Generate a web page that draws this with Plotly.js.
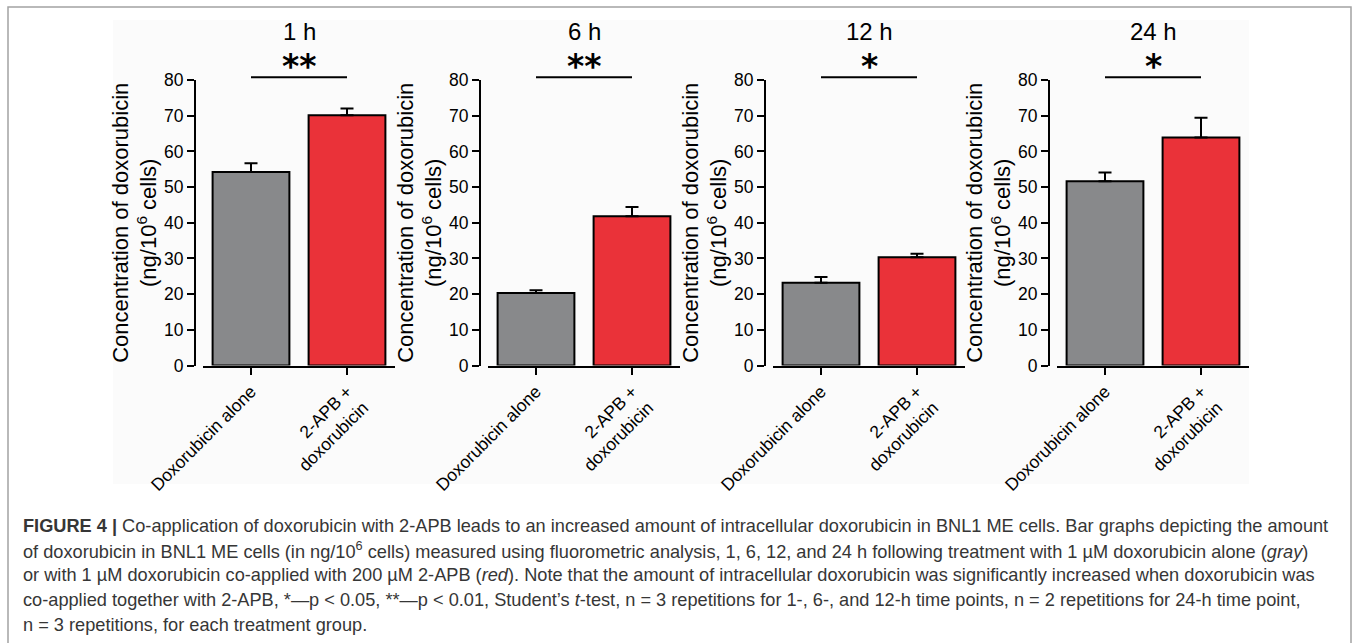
<!DOCTYPE html>
<html>
<head>
<meta charset="utf-8">
<script src="https://cdn.plot.ly/plotly-3.0.1.min.js"></script>
<style>
  html, body { margin: 0; padding: 0; background: #ffffff; }
  #chart { width: 1355px; height: 643px; }
</style>
</head>
<body>
<div id="chart"></div>
<script>
// ---------------- data ----------------
const categories = ['Doxorubicin alone', '2-APB +<br>doxorubicin'];
const timeLabels = ['1 h', '6 h', '12 h', '24 h'];
const aloneMeans = [54.2, 20.3, 23.2, 51.6];
const aloneSEM   = [2.5, 0.8, 1.6, 2.5];
const comboMeans = [70.1, 41.8, 30.3, 63.9];
const comboSEM   = [1.9, 2.6, 1.0, 5.5];
const significance = ['**', '**', '*', '*'];
const yTickVals = [0, 10, 20, 30, 40, 50, 60, 70, 80];
const captionLines = [
  '<b>FIGURE 4 |</b> Co-application of doxorubicin with 2-APB leads to an increased amount of intracellular doxorubicin in BNL1 ME cells. Bar graphs depicting the amount',
  'of doxorubicin in BNL1 ME cells (in ng/10<sup>6</sup> cells) measured using fluorometric analysis, 1, 6, 12, and 24 h following treatment with 1 µM doxorubicin alone (<i>gray</i>)',
  'or with 1 µM doxorubicin co-applied with 200 µM 2-APB (<i>red</i>). Note that the amount of intracellular doxorubicin was significantly increased when doxorubicin was',
  'co-applied together with 2-APB, *—p &lt; 0.05, **—p &lt; 0.01, Student’s <i>t</i>-test, n = 3 repetitions for 1-, 6-, and 12-h time points, n = 2 repetitions for 24-h time point,',
  'n = 3 repetitions, for each treatment group.'
];

// ---------------- layout helpers ----------------
const W = 1355, H = 643;
const px = v => v / W;
const py = v => 1 - v / H;
const FONT = 'Liberation Sans, Arial, Helvetica, sans-serif';
const STARFONT = 'DejaVu Sans, Liberation Sans, Arial, sans-serif';
const CAPFONT = 'Liberation Sans, Arial, sans-serif';
const GRAY = '#88898b';
const RED = '#ea3239';
const yAxisX = [195, 480, 765, 1049];
const yDomain = [py(365.5), py(80)];

const traces = [];
const layout = {
  width: W, height: H,
  margin: {l: 0, r: 0, t: 0, b: 0},
  paper_bgcolor: '#ffffff',
  plot_bgcolor: 'rgba(0,0,0,0)',
  showlegend: false,
  font: {family: FONT, color: '#000000', size: 17},
  shapes: [],
  annotations: [],
  bargap: 0.2
};

// faint image backdrop and figure border
layout.shapes.push({type: 'rect', xref: 'paper', yref: 'paper',
  x0: px(113), x1: px(1249), y0: py(484), y1: py(20),
  fillcolor: '#fbfbfb', line: {width: 0}, layer: 'below'});
layout.shapes.push({type: 'rect', xref: 'paper', yref: 'paper',
  x0: px(8), x1: px(1351), y0: -0.05, y1: py(7),
  fillcolor: 'rgba(0,0,0,0)', line: {color: '#a3a3a3', width: 1.5}, layer: 'below'});

for (let i = 0; i < 4; i++) {
  const n = i === 0 ? '' : String(i + 1);
  const xa = 'x' + n, ya = 'y' + n;
  traces.push({
    type: 'bar', x: categories, y: [aloneMeans[i], comboMeans[i]],
    xaxis: xa, yaxis: ya, width: 0.8,
    marker: {color: [GRAY, RED], line: {color: '#000000', width: 2}},
    error_y: {type: 'data', symmetric: false,
      array: [aloneSEM[i], comboSEM[i]], arrayminus: [0, 0],
      color: '#000000', thickness: 2, width: 6.5},
    hoverinfo: 'skip'
  });
  const x0 = yAxisX[i] + 8, x1 = yAxisX[i] + 200;
  layout['xaxis' + n] = {
    domain: [px(x0), px(x1)], anchor: ya, range: [-0.5, 1.5],
    type: 'category', showline: true, linecolor: '#000000', linewidth: 2,
    ticks: 'outside', ticklen: 7, tickwidth: 2, tickcolor: '#000000',
    tickangle: -45, tickfont: {family: FONT, size: 17.5, color: '#000000'},
    showgrid: false, zeroline: false, fixedrange: true
  };
  layout['yaxis' + n] = {
    domain: yDomain, anchor: 'free', position: px(yAxisX[i]), range: [0, 80],
    tickvals: yTickVals, showline: true, linecolor: '#000000', linewidth: 2,
    ticks: 'outside', ticklen: 7, tickwidth: 2, tickcolor: '#000000',
    tickfont: {family: FONT, size: 17.5, color: '#000000'},
    showgrid: false, zeroline: false, fixedrange: true,
    title: {text: 'Concentration of doxorubicin<br>(ng/10<sup>6</sup> cells)',
      font: {family: FONT, size: 22, color: '#000000'}, standoff: 0}
  };
  // significance bar, stars and time label
  layout.shapes.push({type: 'line', xref: xa, yref: 'paper',
    x0: categories[0], x1: categories[1], y0: py(77.3), y1: py(77.3),
    line: {color: '#000000', width: 2}});
  layout.annotations.push({xref: xa, yref: 'paper', x: 0.5, y: py(66.5),
    text: '<b>' + significance[i] + '</b>', showarrow: false,
    font: {family: STARFONT, size: 33, color: '#000000'}, xanchor: 'center', yanchor: 'middle'});
  layout.annotations.push({xref: xa, yref: 'paper', x: 0.5, y: py(32),
    text: timeLabels[i], showarrow: false,
    font: {family: FONT, size: 24, color: '#000000'}, xanchor: 'center', yanchor: 'middle'});
}

// caption
captionLines.forEach((t, k) => {
  layout.annotations.push({xref: 'paper', yref: 'paper', x: px(21), y: py(525.7 + 24.7 * k),
    text: t, showarrow: false, xanchor: 'left', yanchor: 'middle', align: 'left',
    font: {family: CAPFONT, size: 18.2, color: '#363636'}});
});

Plotly.newPlot('chart', traces, layout, {displayModeBar: false, staticPlot: true});
</script>
</body>
</html>
